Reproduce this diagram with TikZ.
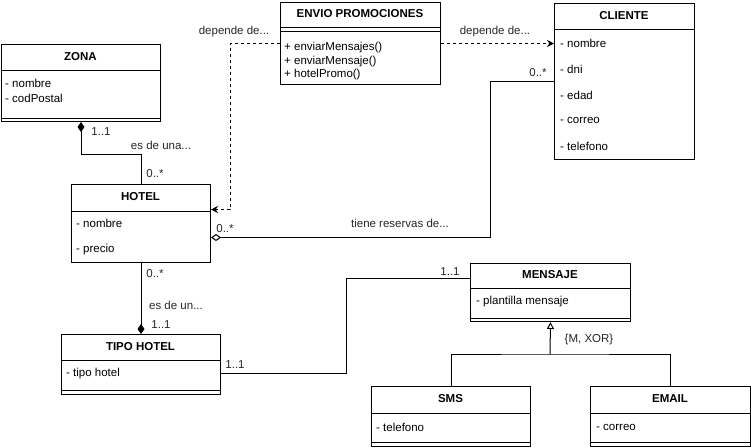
\documentclass[tikz,border=0pt]{standalone}
\usepackage{fontspec}
\setmainfont{Liberation Sans}
\usetikzlibrary{arrows.meta}
\begin{document}
\begin{tikzpicture}[x=1pt,y=-1pt,
  font=\fontsize{11.5}{13}\selectfont,
  cls/.style={draw, line width=1pt, anchor=north west, inner sep=0pt},
  ttl/.style={font=\fontsize{11.5}{13}\selectfont\bfseries, inner sep=0pt},
  attr/.style={anchor=west, inner sep=0pt},
  lbl/.style={inner sep=0pt, text=black!85},
  sep/.style={line width=1pt},
  conn/.style={line width=1pt},
  comp/.style={conn, {Diamond[length=10pt,width=7pt]}-},
  compend/.style={conn, -{Diamond[length=10pt,width=7pt]}},
  agg/.style={conn, -{Diamond[open,fill=white,length=10pt,width=7pt]}},
  dep/.style={conn, dashed, dash pattern=on 3pt off 3pt, -{Stealth[length=7pt,width=7pt]}},
  inh/.style={conn, -{Triangle[open,fill=white,length=7pt,width=7pt]}}
]
\useasboundingbox (0,0) rectangle (751,447);

% ZONA
\node[cls, minimum width=159pt, minimum height=77pt] (zona) at (1,44) {};
\node[ttl] (zonaT) at (80.5,57) {ZONA};
\draw[sep] (zona.west |- 0,70) -- (zona.east |- 0,70);
\draw[sep] (zona.west |- 0,118) -- (zona.east |- 0,118);
\node[attr] (zonaA1) at (5,83) {- nombre};
\node[attr] (zonaA2) at (5,98) {- codPostal};

% ENVIO PROMOCIONES
\node[cls, minimum width=160pt, minimum height=82pt] (envio) at (280,2) {};
\node[ttl] (envioT) at (360,14) {ENVIO PROMOCIONES};
\draw[sep] (envio.west |- 0,27) -- (envio.east |- 0,27);
\draw[sep] (envio.west |- 0,31) -- (envio.east |- 0,31);
\node[attr] (envioM1) at (284,48) {+ enviarMensajes()};
\node[attr] (envioM2) at (284,62) {+ enviarMensaje()};
\node[attr] (envioM3) at (284,75) {+ hotelPromo()};

% CLIENTE
\node[cls, minimum width=140pt, minimum height=156pt] (cliente) at (554,3) {};
\node[ttl] (clienteT) at (624,16) {CLIENTE};
\draw[sep] (cliente.west |- 0,29) -- (cliente.east |- 0,29);
\node[attr] (clienteA1) at (560,43) {- nombre};
\node[attr] (clienteA2) at (560,69) {- dni};
\node[attr] (clienteA3) at (560,95) {- edad};
\node[attr] (clienteA4) at (560,120) {- correo};
\node[attr] (clienteA5) at (560,146) {- telefono};

% HOTEL
\node[cls, minimum width=139pt, minimum height=78pt] (hotel) at (71,184) {};
\node[ttl] (hotelT) at (140.5,197) {HOTEL};
\draw[sep] (hotel.west |- 0,211) -- (hotel.east |- 0,211);
\node[attr] (hotelA1) at (76,223) {- nombre};
\node[attr] (hotelA2) at (76,250) {- precio};

% TIPO HOTEL
\node[cls, minimum width=159pt, minimum height=60pt] (tipo) at (61,334) {};
\node[ttl] (tipoT) at (140.5,347) {TIPO HOTEL};
\draw[sep] (tipo.west |- 0,360) -- (tipo.east |- 0,360);
\draw[sep] (tipo.west |- 0,390) -- (tipo.east |- 0,390);
\node[attr] (tipoA1) at (66,374) {- tipo hotel};

% MENSAJE
\node[cls, minimum width=160pt, minimum height=58pt] (mensaje) at (470,263) {};
\node[ttl] (mensajeT) at (550,275) {MENSAJE};
\draw[sep] (mensaje.west |- 0,288) -- (mensaje.east |- 0,288);
\draw[sep] (mensaje.west |- 0,318) -- (mensaje.east |- 0,318);
\node[attr] (mensajeA1) at (476,302) {- plantilla mensaje};

% SMS
\node[cls, minimum width=159pt, minimum height=60pt] (sms) at (371,386) {};
\node[ttl] (smsT) at (450.5,399) {SMS};
\draw[sep] (sms.west |- 0,413) -- (sms.east |- 0,413);
\draw[sep] (sms.west |- 0,442) -- (sms.east |- 0,442);
\node[attr] (smsA1) at (376,427) {- telefono};

% EMAIL
\node[cls, minimum width=160pt, minimum height=60pt] (email) at (590,386) {};
\node[ttl] (emailT) at (670,399) {EMAIL};
\draw[sep] (email.west |- 0,413) -- (email.east |- 0,413);
\draw[sep] (email.west |- 0,442) -- (email.east |- 0,442);
\node[attr] (emailA1) at (596,427) {- correo};

% Connectors
\draw[comp] (zona.south) -- ++(0,32) -| (hotel.north);
\node[lbl] (l1) at (101,132) {1..1};
\node[lbl] (l2) at (161,145) {es de una...};
\node[lbl] (l3) at (155,174) {0..*};

\draw[dep] (envio.west) -- ++(-50,0) |- ([yshift=14pt]hotel.east);
\node[lbl] (l4) at (234,32) {depende de...};

\draw[dep] (envio.east) -- (envio.east -| cliente.west);
\node[lbl] (l5) at (495,32) {depende de...};

\draw[agg] (cliente.west) -- ++(-64,0) |- ([yshift=-14pt]hotel.east);
\node[lbl] (l6) at (538,73) {0..*};
\node[lbl] (l7) at (225,229) {0..*};
\node[lbl] (l8) at (400,223) {tiene reservas de...};

\draw[compend] (hotel.south) -- (tipo.north);
\node[lbl] (l9) at (155,274) {0..*};
\node[lbl] (l10) at (176,305) {es de un...};
\node[lbl] (l11) at (161,325) {1..1};

\draw[conn] ([yshift=-9pt]tipo.east) -- ++(125,0) |- ([yshift=14pt]mensaje.west);
\node[lbl] (l12) at (235,365) {1..1};
\node[lbl] (l13) at (450,272) {1..1};

\coordinate (j) at (550,354);
\draw[inh] (j) -- (mensaje.south);
\draw[conn] (sms.north) |- (j) -| (email.north);
\node[lbl] (l14) at (589,340) {\{M, XOR\}};
\end{tikzpicture}
\end{document}
